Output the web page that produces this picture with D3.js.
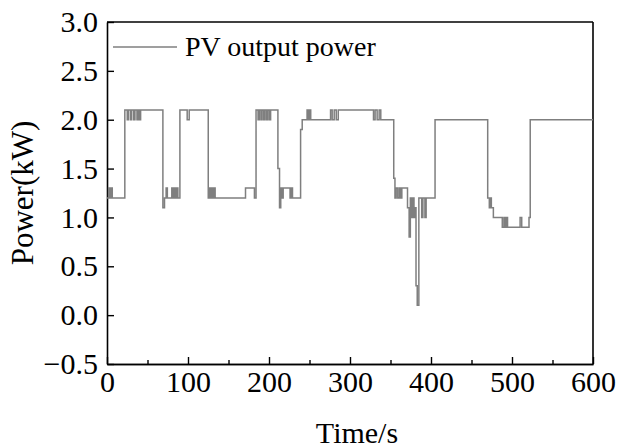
<!DOCTYPE html>
<html>
<head>
<meta charset="utf-8">
<script src="https://cdn.jsdelivr.net/npm/d3@7"></script>
<style>
  body { margin: 0; background: #fff; }
  svg text { font-family: "Times New Roman", "Liberation Serif", serif; fill: #000; }
</style>
</head>
<body>
<div class="chart"></div>
<script>
// PV output power (time in s, power in kW)
const times = [0, 2, 3.5, 5, 6.5,
  22, 25, 26.5, 29, 30.5, 33, 34.5, 37, 38.5, 40, 41.5,
  69, 71, 73, 74.5, 80, 81.5, 83, 84.5, 86, 87.5,
  90, 99, 101.5,
  125, 126, 127.5, 129, 130.5, 132, 133.5,
  171, 182, 184, 186.5, 188, 190, 191.5, 193.5, 195, 197, 198.5, 200.5, 202,
  211, 213, 214.5, 216, 217.5, 226, 227.5, 229, 239, 241,
  247, 248.5, 250, 251.5, 276, 278, 280.5, 283, 285.5,
  329, 331, 333.5, 336, 338,
  354, 355.5, 357, 359, 361, 362.5, 364, 371, 373, 374.5, 376, 377.5, 379, 380.5,
  381.5, 383, 385, 388.5, 390, 392.5, 394,
  405, 470, 472, 473.5, 474.5, 477, 488, 490, 491.5, 493, 494.5, 510, 512,
  521, 522.5, 600];
const power = [1.2, 1.3, 1.2, 1.3, 1.2,
  2.1, 2.0, 2.1, 2.0, 2.1, 2.0, 2.1, 2.0, 2.1, 2.0, 2.1,
  1.1, 1.2, 1.3, 1.2, 1.3, 1.2, 1.3, 1.2, 1.3, 1.2,
  2.1, 2.0, 2.1,
  1.2, 1.3, 1.2, 1.3, 1.2, 1.3, 1.2,
  1.3, 1.2, 2.1, 2.0, 2.1, 2.0, 2.1, 2.0, 2.1, 2.0, 2.1, 2.0, 2.1,
  1.5, 1.1, 1.3, 1.2, 1.3, 1.2, 1.3, 1.2, 1.9, 2.0,
  2.1, 2.0, 2.1, 2.0, 2.1, 2.0, 2.1, 2.0, 2.1,
  2.0, 2.1, 2.0, 2.1, 2.0,
  1.4, 1.2, 1.3, 1.2, 1.3, 1.2, 1.3, 1.1, 0.8, 1.2, 1.0, 1.2, 1.0, 1.1,
  0.3, 0.1, 1.2, 1.0, 1.2, 1.0, 1.2,
  2.0, 1.2, 1.1, 1.2, 1.1, 1.0, 0.9, 1.0, 0.9, 1.0, 0.9, 1.0, 0.9,
  1.0, 2.0, 2.0];

const xTicks = [0, 100, 200, 300, 400, 500, 600];
const xMinor = [50, 150, 250, 350, 450, 550];
const yTicks = [-0.5, 0.0, 0.5, 1.0, 1.5, 2.0, 2.5, 3.0];
const seriesName = "PV output power";

const data = times.map((t, i) => ({t: t, p: power[i]}));

const W = 618, H = 448;
const margin = {top: 22, left: 107, bottom: 84, right: 25};
const width = W - margin.left - margin.right;
const height = H - margin.top - margin.bottom;

const svg = d3.select(".chart").append("svg")
  .attr("width", W)
  .attr("height", H);

const g = svg.append("g")
  .attr("transform", "translate(" + margin.left + "," + margin.top + ")");

const x = d3.scaleLinear().domain([0, 600]).range([0, width]);
const y = d3.scaleLinear().domain([-0.5, 3.0]).range([height, 0]);

// axes, ticks pointing inwards
const xAxis = g.append("g")
  .attr("transform", "translate(0," + height + ")")
  .call(d3.axisBottom(x).tickValues(xTicks).tickFormat(d3.format("d"))
    .tickSizeInner(-7).tickSizeOuter(0).tickPadding(7));

g.append("g")
  .attr("transform", "translate(0," + height + ")")
  .call(d3.axisBottom(x).tickValues(xMinor).tickFormat("")
    .tickSizeInner(-4).tickSizeOuter(0));

g.append("g")
  .call(d3.axisLeft(y).tickValues(yTicks).tickFormat(d3.format(".1f"))
    .tickSizeInner(-7).tickSizeOuter(0).tickPadding(9));

g.selectAll(".domain").attr("stroke", "#000").attr("stroke-width", 1.6);
g.selectAll(".tick line").attr("stroke", "#000").attr("stroke-width", 1.4);
g.selectAll(".tick text").style("font-size", "30px").attr("fill", "#000");
xAxis.selectAll(".tick text").attr("dy", "0.71em");

// frame top/right
g.append("line").attr("x1", 0).attr("x2", width).attr("y1", 0).attr("y2", 0)
  .attr("stroke", "#000").attr("stroke-width", 1.6);
g.append("line").attr("x1", width).attr("x2", width).attr("y1", 0).attr("y2", height)
  .attr("stroke", "#000").attr("stroke-width", 1.6);

// series
const line = d3.line()
  .x(d => x(d.t))
  .y(d => y(d.p))
  .curve(d3.curveStepAfter);

g.append("path")
  .datum(data)
  .attr("fill", "none")
  .attr("stroke", "#7f7f7f")
  .attr("stroke-width", 1.5)
  .attr("d", line);

// legend
g.append("line")
  .attr("x1", 6).attr("x2", 70).attr("y1", 25).attr("y2", 25)
  .attr("stroke", "#7f7f7f").attr("stroke-width", 1.6);
g.append("text")
  .attr("x", 78).attr("y", 34)
  .style("font-size", "28px")
  .text(seriesName);

// axis titles
svg.append("text")
  .attr("x", 357).attr("y", 443)
  .attr("text-anchor", "middle")
  .style("font-size", "30px")
  .text("Time/s");

svg.append("text")
  .attr("transform", "translate(33," + (margin.top + height / 2) + ") rotate(-90)")
  .attr("text-anchor", "middle")
  .style("font-size", "31px")
  .text("Power(kW)");
</script>
</body>
</html>
